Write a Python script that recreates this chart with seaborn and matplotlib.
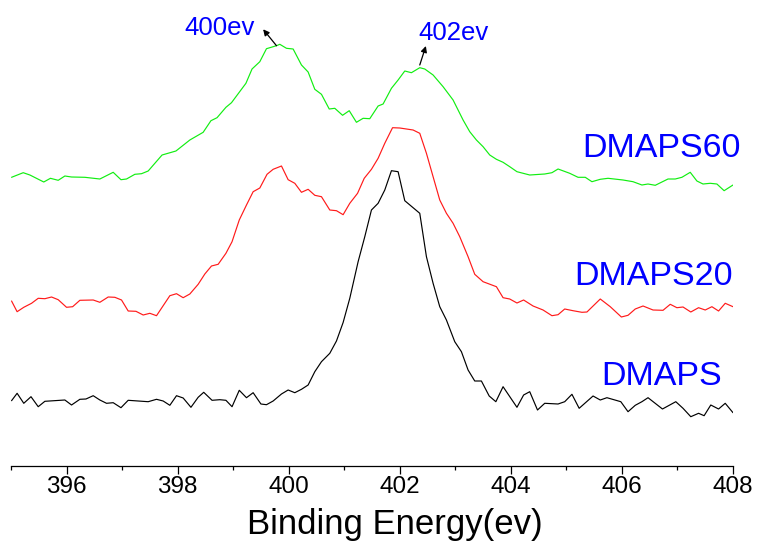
import numpy as np
import pandas as pd
import matplotlib
matplotlib.use("Agg")
import matplotlib.pyplot as plt
import seaborn as sns

# ---------------- data ----------------
e_dmaps60 = [395.01, 395.22, 395.34, 395.59, 395.71, 395.85, 395.97, 396.09, 396.33, 396.60,
             396.84, 396.98, 397.08, 397.23, 397.35, 397.47, 397.72, 397.97, 398.22, 398.46,
             398.60, 398.71, 398.87, 398.97, 399.23, 399.34, 399.48, 399.60, 399.78, 399.84,
             399.96, 400.08, 400.23, 400.35, 400.47, 400.59, 400.73, 400.83, 400.97, 401.09,
             401.22, 401.34, 401.46, 401.61, 401.70, 401.85, 401.97, 402.09, 402.21, 402.36,
             402.45, 402.60, 402.78, 402.96, 403.14, 403.26, 403.38, 403.50, 403.62, 403.74,
             403.86, 403.98, 404.11, 404.34, 404.61, 404.74, 404.85, 405.06, 405.21, 405.34,
             405.46, 405.61, 405.75, 406.02, 406.20, 406.36, 406.47, 406.60, 406.83, 406.96,
             407.08, 407.23, 407.35, 407.46, 407.59, 407.71, 407.84, 408.00]
i_dmaps60 = [363.7, 368.3, 366.0, 359.0, 362.7, 360.7, 365.0, 364.0, 363.7, 362.0,
             368.7, 361.3, 362.0, 366.7, 367.3, 370.0, 386.0, 390.0, 401.0, 408.7,
             420.3, 423.3, 433.7, 438.3, 457.7, 472.0, 479.3, 492.3, 495.3, 496.7,
             492.7, 492.0, 476.0, 469.0, 451.7, 446.7, 432.0, 432.7, 425.7, 430.3,
             418.7, 422.7, 422.3, 435.0, 437.0, 452.7, 461.0, 470.0, 468.3, 473.3,
             472.0, 466.0, 454.3, 441.0, 421.0, 409.3, 401.0, 394.3, 386.0, 381.7,
             378.7, 374.3, 369.3, 366.0, 367.0, 368.3, 372.0, 367.7, 363.7, 363.7,
             359.3, 361.7, 362.7, 361.0, 359.3, 356.0, 357.0, 355.7, 362.0, 362.0,
             363.7, 368.7, 360.0, 357.0, 357.7, 357.0, 350.3, 356.0]

e_dmaps20 = [395.01, 395.11, 395.23, 395.37, 395.49, 395.61, 395.73, 395.85, 396.00, 396.11,
             396.24, 396.48, 396.60, 396.75, 396.87, 396.99, 397.11, 397.25, 397.38, 397.50,
             397.62, 397.74, 397.86, 397.98, 398.10, 398.22, 398.37, 398.49, 398.61, 398.73,
             398.87, 398.98, 399.11, 399.24, 399.36, 399.48, 399.61, 399.72, 399.87, 399.99,
             400.11, 400.23, 400.35, 400.47, 400.59, 400.74, 400.86, 400.98, 401.10, 401.24,
             401.36, 401.49, 401.61, 401.73, 401.87, 402.00, 402.24, 402.36, 402.48, 402.60,
             402.72, 402.84, 402.96, 403.08, 403.23, 403.35, 403.50, 403.74, 403.86, 403.98,
             404.11, 404.23, 404.40, 404.58, 404.74, 404.85, 404.97, 405.12, 405.28, 405.37,
             405.61, 405.79, 405.99, 406.11, 406.24, 406.38, 406.56, 406.74, 406.87, 406.99,
             407.10, 407.24, 407.38, 407.50, 407.62, 407.74, 407.86, 408.00]
i_dmaps20 = [240.0, 229.3, 233.7, 237.7, 242.7, 242.3, 244.0, 241.3, 233.7, 234.3,
             240.7, 241.0, 238.7, 244.0, 243.7, 241.0, 230.0, 229.7, 226.0, 227.7,
             225.3, 235.3, 245.3, 247.3, 243.3, 247.0, 256.7, 267.0, 275.0, 276.7,
             287.7, 299.3, 321.0, 336.0, 349.3, 353.0, 366.7, 371.7, 375.0, 361.3,
             357.7, 348.7, 351.7, 345.7, 344.3, 331.0, 330.3, 326.3, 337.7, 347.7,
             362.7, 371.7, 382.7, 397.7, 413.3, 413.0, 411.0, 407.7, 387.7, 364.3,
             341.0, 327.7, 317.7, 304.3, 284.3, 266.7, 259.3, 254.3, 243.3, 242.0,
             238.0, 241.0, 235.0, 231.0, 225.3, 226.3, 232.0, 230.3, 228.7, 229.0,
             242.0, 234.3, 224.0, 225.7, 232.0, 235.0, 231.0, 230.7, 236.7, 233.3,
             234.0, 229.0, 233.3, 231.0, 234.3, 230.0, 237.7, 234.3]

e_dmaps = [395.01, 395.11, 395.23, 395.36, 395.49, 395.61, 395.97, 396.09, 396.24, 396.35,
           396.48, 396.60, 396.72, 396.84, 396.98, 397.11, 397.47, 397.62, 397.74, 397.86,
           397.98, 398.10, 398.24, 398.37, 398.47, 398.62, 398.76, 398.87, 398.98, 399.11,
           399.24, 399.36, 399.50, 399.60, 399.72, 399.87, 399.99, 400.11, 400.23, 400.35,
           400.47, 400.59, 400.74, 400.86, 400.98, 401.10, 401.25, 401.37, 401.49, 401.61,
           401.73, 401.85, 401.97, 402.09, 402.36, 402.48, 402.60, 402.72, 402.84, 402.99,
           403.11, 403.23, 403.35, 403.47, 403.61, 403.73, 403.86, 404.11, 404.23, 404.34,
           404.48, 404.61, 404.85, 404.97, 405.10, 405.23, 405.48, 405.61, 405.73, 405.98,
           406.11, 406.24, 406.36, 406.47, 406.73, 406.97, 407.10, 407.24, 407.38, 407.48,
           407.60, 407.74, 407.86, 408.00]
i_dmaps = [140.3, 147.7, 137.7, 144.3, 134.3, 139.7, 141.0, 136.0, 141.7, 142.0,
           145.3, 141.0, 137.7, 138.3, 133.3, 140.7, 139.3, 141.7, 140.0, 135.7,
           145.3, 143.0, 133.7, 143.7, 148.7, 140.7, 141.3, 140.7, 134.3, 150.7,
           143.3, 148.3, 137.0, 136.3, 140.0, 147.0, 151.0, 148.3, 151.7, 156.0,
           169.3, 179.3, 187.7, 200.0, 218.5, 242.7, 279.3, 304.3, 331.0, 337.7,
           351.0, 370.3, 369.3, 340.3, 327.7, 284.3, 257.7, 234.3, 221.0, 199.3,
           189.3, 171.0, 160.0, 160.0, 145.0, 139.3, 154.3, 133.7, 146.0, 149.3,
           131.0, 137.7, 137.0, 139.3, 146.7, 132.7, 145.0, 141.0, 143.3, 139.3,
           129.3, 135.7, 139.3, 143.3, 132.0, 139.3, 132.7, 124.3, 127.7, 125.3,
           136.0, 132.0, 137.7, 128.3]

series_names = ["DMAPS60", "DMAPS20", "DMAPS"]
series_colors = ["#11ee11", "#ff1a1a", "#000000"]
tick_major = [396, 398, 400, 402, 404, 406, 408]
tick_minor = [395, 397, 399, 401, 403, 405, 407]

# ---------------- figure ----------------
sns.set_style("white")
plt.rcParams["font.family"] = ["Liberation Sans", "DejaVu Sans"]
plt.rcParams["text.color"] = "black"
plt.rcParams["axes.labelcolor"] = "black"
plt.rcParams["xtick.color"] = "black"
plt.rcParams["xtick.labelcolor"] = "black"

df = pd.concat([
    pd.DataFrame({"energy": e_dmaps60, "intensity": i_dmaps60, "sample": "DMAPS60"}),
    pd.DataFrame({"energy": e_dmaps20, "intensity": i_dmaps20, "sample": "DMAPS20"}),
    pd.DataFrame({"energy": e_dmaps, "intensity": i_dmaps, "sample": "DMAPS"}),
], ignore_index=True)

fig = plt.figure(figsize=(7.58, 5.41), dpi=100)
ax = fig.add_axes([11 / 758, 75 / 541, 722 / 758, 466 / 541])

sns.lineplot(data=df, x="energy", y="intensity", hue="sample",
             hue_order=series_names, palette=series_colors,
             estimator=None, linewidth=0.85, legend=False, ax=ax)

ax.set_xlim(395, 408)
ax.set_ylim(75, 541)
ax.set_yticks([])
for s in ["left", "right", "top"]:
    ax.spines[s].set_visible(False)
ax.spines["bottom"].set_linewidth(0.9)
ax.spines["bottom"].set_color("black")

ax.set_xticks(tick_major)
ax.set_xticks(tick_minor, minor=True)
ax.set_xticklabels([str(t) for t in tick_major])
ax.tick_params(axis="x", which="major", direction="out", length=6, width=0.9,
               labelsize=17.5, pad=1.5, color="black", labelcolor="black", bottom=True)
ax.tick_params(axis="x", which="minor", direction="out", length=3, width=0.9,
               color="black", bottom=True)

ax.set_xlabel("Binding Energy(ev)", fontsize=25, color="black")
ax.set_ylabel("")
ax.xaxis.set_label_coords(0.532, -0.1466)
ax.xaxis.label.set_va("baseline")

# series labels
blue = "#0000ff"
ax.text(405.28, 383.7, "DMAPS60", color=blue, fontsize=24.5, va="baseline", ha="left", clip_on=False)
ax.text(405.15, 256.0, "DMAPS20", color=blue, fontsize=24.5, va="baseline", ha="left", clip_on=False)
ax.text(405.62, 156.0, "DMAPS", color=blue, fontsize=24.5, va="baseline", ha="left", clip_on=False)

# peak annotations
ax.text(398.13, 506.0, "400ev", color=blue, fontsize=18.5, va="baseline", ha="left")
ax.text(402.33, 501.0, "402ev", color=blue, fontsize=18.5, va="baseline", ha="left")
arrow = dict(arrowstyle="-|>", color="black", lw=0.9, mutation_scale=9, shrinkA=0, shrinkB=0)
ax.annotate("", xy=(399.54, 511.7), xytext=(399.78, 495.3), arrowprops=arrow)
ax.annotate("", xy=(402.47, 495.0), xytext=(402.36, 476.0), arrowprops=arrow)

fig.savefig("out.png", dpi=100, facecolor="white")
